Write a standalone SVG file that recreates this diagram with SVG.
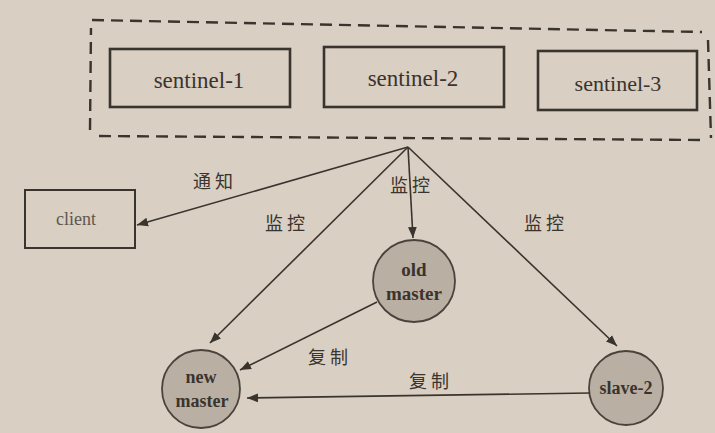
<svg xmlns="http://www.w3.org/2000/svg" width="715" height="433" viewBox="0 0 715 433">
<defs>
<marker id="arr" viewBox="0 0 10 10" refX="10" refY="5" markerWidth="11" markerHeight="11" markerUnits="userSpaceOnUse" orient="auto">
<path d="M0,1 L10,5 L0,9 Z" fill="#3a342e"/>
</marker>
<style>
.box{fill:none;stroke:#3a342e;stroke-width:2.6}
.node{fill:#b9afa3;stroke:#4a433c;stroke-width:1.8}
.edge{fill:none;stroke:#3a342e;stroke-width:1.6;marker-end:url(#arr)}
.lbl{font-family:'Liberation Serif',serif;fill:#3a342e;text-anchor:middle}
.cn{font-family:'Noto Sans CJK SC',sans-serif;font-size:18px;fill:#3a342e;text-anchor:middle}
</style>
</defs>
<rect width="715" height="433" fill="#d9cfc3"/>
<g id="sentinels-group">
<path d="M92,20 L702,32 M708,40 L711,138 M700,140 L94,136 M90,130 L91,28" fill="none" stroke="#3a342e" stroke-width="2.4" stroke-dasharray="12 7"/>
</g>
<g id="sentinel-1">
<rect class="box" x="110" y="49" width="180" height="58"/>
<text class="lbl" x="199" y="88" font-size="23">sentinel-1</text>
</g>
<g id="sentinel-2">
<rect class="box" x="324" y="47" width="180" height="60"/>
<text class="lbl" x="413" y="86" font-size="23">sentinel-2</text>
</g>
<g id="sentinel-3">
<rect class="box" x="538" y="51" width="159" height="59"/>
<text class="lbl" x="618" y="91" font-size="22">sentinel-3</text>
</g>
<g id="client">
<rect x="25" y="190" width="110" height="58" fill="none" stroke="#3a342e" stroke-width="2"/>
<text class="lbl" x="76" y="225" font-size="18" style="fill:#5e574f">client</text>
</g>
<g id="old-master">
<circle class="node" cx="414" cy="281" r="41"/>
<text class="lbl" x="414" y="276" font-size="19" font-weight="bold">old</text>
<text class="lbl" x="414" y="300" font-size="19" font-weight="bold">master</text>
</g>
<g id="new-master">
<circle class="node" cx="201" cy="389" r="39"/>
<text class="lbl" x="201" y="383" font-size="18" font-weight="bold">new</text>
<text class="lbl" x="202" y="407" font-size="18" font-weight="bold">master</text>
</g>
<g id="slave-2">
<circle class="node" cx="626" cy="388" r="37"/>
<text class="lbl" x="626" y="394" font-size="18" font-weight="bold">slave-2</text>
</g>
<g id="connectors">
<line class="edge" x1="408" y1="147" x2="137" y2="225"/>
<line class="edge" x1="408" y1="147" x2="210" y2="343"/>
<line class="edge" x1="408" y1="147" x2="413" y2="238"/>
<line class="edge" x1="408" y1="147" x2="617" y2="346"/>
<line class="edge" x1="377" y1="302" x2="240" y2="370"/>
<line class="edge" x1="590" y1="393" x2="247" y2="398"/>
<text class="cn" x="213" y="188">通 知</text>
<text class="cn" x="285" y="230">监 控</text>
<text class="cn" x="410" y="192">监 控</text>
<text class="cn" x="544" y="230">监 控</text>
<text class="cn" x="328" y="364">复 制</text>
<text class="cn" x="429" y="388">复 制</text>
</g>
</svg>
